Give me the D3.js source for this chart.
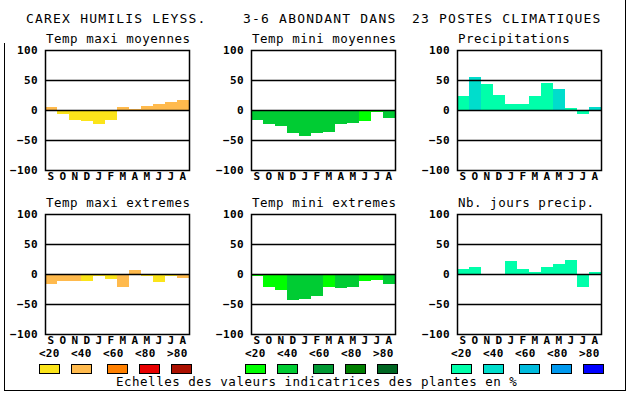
<!DOCTYPE html>
<html>
<head>
<meta charset="utf-8">
<script src="https://cdn.jsdelivr.net/npm/d3@7"></script>
<style>
  body { margin: 0; background: #fff; }
  svg { display: block; }
  .title { font-family: "DejaVu Sans Mono", monospace; font-size: 13px; letter-spacing: 1.2px; }
  .sub { font-family: "DejaVu Sans Mono", monospace; font-size: 12.5px; letter-spacing: 0.5px; font-weight: 300; }
  .tick text { font-family: "DejaVu Sans Mono", monospace; font-weight: bold; font-size: 11px; letter-spacing: 0.4px; fill: #000; }
  .leg { font-family: "DejaVu Sans Mono", monospace; font-weight: bold; font-size: 11px; letter-spacing: 0.2px; }
</style>
</head>
<body>
<svg width="630" height="394"></svg>
<script>
// The data
var months = ["S", "O", "N", "D", "J", "F", "M", "A", "M", "J", "J", "A"];
var yTicks = [100, 50, 0, -50, -100];
var gridTicks = [50, 0, -50];
var legendLabels = ["<20", "<40", "<60", "<80", ">80"];

var warmColors = ["#fbe41a", "#ffba4d", "#ff8000", "#e80000", "#ab1000"];
var greenColors = ["#00ff00", "#00cc33", "#009933", "#007f00", "#006622"];
var blueColors = ["#00ffaa", "#00ddcc", "#00bbdd", "#0099ee", "#0000ff"];

// values and their class (index in the colour scale)
var tmaxMoy = [5, -6, -16, -18, -23, -16, 5, 2, 7, 10, 14, 17];
var tmaxMoyCls = [1, 0, 0, 0, 0, 0, 1, 1, 1, 1, 1, 1];
var tminMoy = [-17, -24, -26, -38, -44, -38, -36, -24, -21, -18, -4, -13];
var tminMoyCls = [1, 1, 1, 1, 1, 1, 1, 1, 1, 0, 0, 1];
var precip = [23, 55, 43, 25, 10, 10, 23, 45, 35, 3, -6, 5];
var precipCls = [0, 1, 0, 0, 0, 0, 0, 0, 1, 0, 0, 1];
var tmaxExt = [-16, -11, -11, -12, -4, -8, -21, 6, -4, -14, -4, -6];
var tmaxExtCls = [1, 1, 1, 0, 0, 0, 1, 1, 0, 0, 0, 1];
var tminExt = [-4, -21, -27, -44, -42, -37, -22, -24, -21, -12, -10, -16];
var tminExtCls = [0, 0, 0, 1, 1, 1, 0, 1, 1, 0, 0, 1];
var joursPrecip = [8, 11, 0, -2, 21, 8, 4, 11, 16, 24, -21, 3];
var joursPrecipCls = [0, 0, 0, 0, 0, 0, 0, 0, 0, 0, 0, 0];

var svg = d3.select("svg");

// frame
svg.append("path")
    .attr("d", "M4.5,43V390.5H625.5V0")
    .attr("fill", "none")
    .attr("stroke", "#000")
    .attr("shape-rendering", "crispEdges");

// main title
var titleParts = [[26, "CAREX HUMILIS LEYSS."], [243, "3-6 ABONDANT DANS"], [412, "23 POSTES CLIMATIQUES"]];
titleParts.forEach(function (p) {
    svg.append("text").attr("class", "title")
        .attr("x", p[0]).attr("y", 23).text(p[1]);
});

var colX = [45, 251, 457], rowY = [50, 214];
var pw = 144, ph = 120;

var panels = [
    { title: "Temp maxi moyennes", v: tmaxMoy, c: tmaxMoyCls, pal: warmColors, col: 0, row: 0 },
    { title: "Temp mini moyennes", v: tminMoy, c: tminMoyCls, pal: greenColors, col: 1, row: 0 },
    { title: "Precipitations", v: precip, c: precipCls, pal: blueColors, col: 2, row: 0 },
    { title: "Temp maxi extremes", v: tmaxExt, c: tmaxExtCls, pal: warmColors, col: 0, row: 1 },
    { title: "Temp mini extremes", v: tminExt, c: tminExtCls, pal: greenColors, col: 1, row: 1 },
    { title: "Nb. jours precip.", v: joursPrecip, c: joursPrecipCls, pal: blueColors, col: 2, row: 1 }
];

panels.forEach(function (p) {
    var g = svg.append("g")
        .attr("transform", "translate(" + colX[p.col] + "," + rowY[p.row] + ")");

    var x = d3.scaleBand().domain(d3.range(months.length)).range([0, pw]).padding(0);
    var y = d3.scaleLinear().domain([-100, 100]).range([ph, 0]);

    g.append("text").attr("class", "sub")
        .attr("x", 1).attr("y", -7).text(p.title);

    // bars
    g.selectAll("rect.bar")
        .data(p.v)
        .enter()
        .append("rect")
        .attr("class", "bar")
        .attr("x", function (d, i) { return x(i); })
        .attr("width", x.bandwidth())
        .attr("y", function (d) { return y(Math.max(0, d)); })
        .attr("height", function (d) { return Math.abs(y(d) - y(0)); })
        .attr("fill", function (d, i) { return p.pal[p.c[i]]; })
        .attr("shape-rendering", "crispEdges");

    // grid lines
    g.selectAll("line.grid")
        .data(gridTicks)
        .enter()
        .append("line")
        .attr("x1", 0).attr("x2", pw)
        .attr("y1", function (d) { return Math.round(y(d)) + 0.5; })
        .attr("y2", function (d) { return Math.round(y(d)) + 0.5; })
        .attr("stroke", "#000")
        .attr("stroke-width", 1.5);

    g.append("rect")
        .attr("x", 0.5).attr("y", 0.5)
        .attr("width", pw).attr("height", ph)
        .attr("fill", "none").attr("stroke", "#000")
        .attr("stroke-width", 1.5);

    // axes
    var ya = g.append("g")
        .call(d3.axisLeft(y).tickValues(yTicks).tickSize(0).tickPadding(7).tickFormat(d3.format("d")));
    ya.select(".domain").remove();
    ya.selectAll("text").attr("dy", "0.36em");

    var xa = g.append("g")
        .attr("transform", "translate(0," + ph + ")")
        .call(d3.axisBottom(x).tickSize(0).tickPadding(2).tickFormat(function (i) { return months[i]; }));
    xa.select(".domain").remove();
    xa.selectAll("text").attr("dy", "0.71em");
});

// legend
var palettes = [warmColors, greenColors, blueColors];
var boxOffsets = [0, 32, 68, 100, 132];
palettes.forEach(function (pal, k) {
    var gx = colX[k] - 6;
    var lg = svg.append("g").attr("transform", "translate(" + gx + ",0)");
    lg.selectAll("text")
        .data(legendLabels)
        .enter()
        .append("text")
        .attr("class", "leg")
        .attr("x", function (d, i) { return i * 32; })
        .attr("y", 357)
        .text(function (d) { return d; });
    lg.selectAll("rect")
        .data(pal)
        .enter()
        .append("rect")
        .attr("x", function (d, i) { return boxOffsets[i] + 0.5; })
        .attr("y", 364.5)
        .attr("width", 20)
        .attr("height", 9)
        .attr("fill", function (d) { return d; })
        .attr("stroke", "#000");
});

svg.append("text").attr("class", "sub")
    .attr("x", 116).attr("y", 386)
    .text("Echelles des valeurs indicatrices des plantes en %");
</script>
</body>
</html>
